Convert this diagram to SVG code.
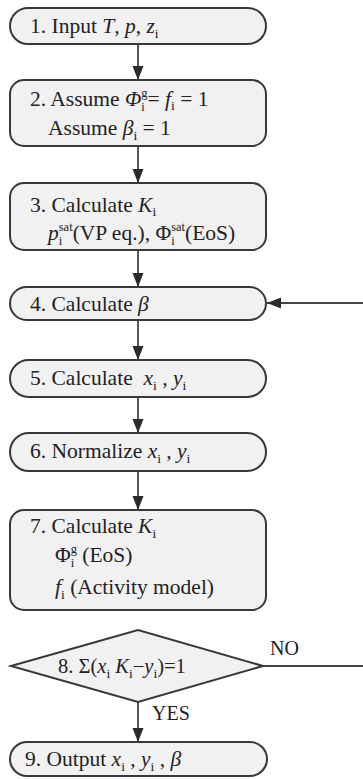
<svg xmlns="http://www.w3.org/2000/svg" width="363" height="779" viewBox="0 0 363 779">
<defs>
<style>
.box{fill:#f1f1f1;stroke:#383838;stroke-width:2}
.t{font-family:"Liberation Serif","Times New Roman",serif;font-size:21.5px;fill:#222}
.d{font-size:20.5px}
.it{font-style:italic}
.s{font-size:13.5px;font-style:normal}
.ss{font-size:12.5px;font-style:normal}
.lbl{font-family:"Liberation Serif","Times New Roman",serif;font-size:20px;fill:#222}
.c{fill:none;stroke:#444;stroke-width:1.8}
</style>
<marker id="ah" markerUnits="userSpaceOnUse" markerWidth="15" markerHeight="12" refX="14" refY="5.5" orient="auto">
<path d="M0,0 L14,5.5 L0,11 Z" fill="#2a2a2a"/>
</marker>
</defs>
<rect width="363" height="779" fill="#fff"/>
<g id="connectors">
<line class="c" x1="138" y1="44" x2="138" y2="80" marker-end="url(#ah)"/>
<line class="c" x1="138" y1="146" x2="138" y2="183" marker-end="url(#ah)"/>
<line class="c" x1="138" y1="250" x2="138" y2="287" marker-end="url(#ah)"/>
<line class="c" x1="138" y1="320" x2="138" y2="360" marker-end="url(#ah)"/>
<line class="c" x1="138" y1="397" x2="138" y2="433" marker-end="url(#ah)"/>
<line class="c" x1="138" y1="471" x2="138" y2="510" marker-end="url(#ah)"/>
<line class="c" x1="138" y1="702" x2="138" y2="742" marker-end="url(#ah)"/>
<line class="c" x1="263" y1="666" x2="363" y2="666"/>
<line class="c" x1="363" y1="303" x2="267" y2="303" marker-end="url(#ah)"/>
<text class="lbl" x="152" y="720">YES</text>
<text class="lbl" x="270" y="655">NO</text>
</g>
<g id="n1">
<rect class="box" x="10" y="8" width="256" height="36" rx="18"/>
<text class="t" x="30" y="33">1. Input <tspan class="it">T</tspan>, <tspan class="it">p</tspan>, <tspan class="it">z</tspan><tspan class="s" dy="5">i</tspan></text>
</g>
<g id="n2">
<rect class="box" x="10" y="80" width="256" height="66" rx="14"/>
<text class="t" x="30" y="106">2. Assume <tspan class="it">Φ</tspan><tspan class="ss" dy="5">i</tspan><tspan class="ss" dx="-3.5" dy="-14.5">g</tspan><tspan dy="9.5">= </tspan><tspan class="it">f</tspan><tspan class="s" dy="4">i</tspan><tspan dy="-4"> = 1</tspan></text>
<text class="t" x="48" y="135">Assume <tspan class="it">β</tspan><tspan class="s" dy="5">i</tspan><tspan dy="-5"> = 1</tspan></text>
</g>
<g id="n3">
<rect class="box" x="10" y="183" width="256" height="67" rx="14"/>
<text class="t" x="30" y="212">3. Calculate <tspan class="it">K</tspan><tspan class="s" dy="4">i</tspan></text>
<text class="t" x="48" y="240"><tspan class="it">p</tspan><tspan class="ss" dy="5">i</tspan><tspan class="ss" dx="-3.5" dy="-14.5">sat</tspan><tspan dy="9.5">(VP eq.), Φ</tspan><tspan class="ss" dy="5">i</tspan><tspan class="ss" dx="-3.5" dy="-14.5">sat</tspan><tspan dy="9.5">(EoS)</tspan></text>
</g>
<g id="n4">
<rect class="box" x="10" y="287" width="256" height="33" rx="16.5"/>
<text class="t" x="30" y="311">4. Calculate <tspan class="it">β</tspan></text>
</g>
<g id="n5">
<rect class="box" x="10" y="360" width="256" height="37" rx="18.5"/>
<text class="t" x="30" y="385" xml:space="preserve">5. Calculate  <tspan class="it">x</tspan><tspan class="s" dy="5">i</tspan><tspan dy="-5"> , </tspan><tspan class="it">y</tspan><tspan class="s" dy="5">i</tspan></text>
</g>
<g id="n6">
<rect class="box" x="10" y="433" width="256" height="38" rx="19"/>
<text class="t" x="30" y="458">6. Normalize <tspan class="it">x</tspan><tspan class="s" dy="5">i</tspan><tspan dy="-5"> , </tspan><tspan class="it">y</tspan><tspan class="s" dy="5">i</tspan></text>
</g>
<g id="n7">
<rect class="box" x="10" y="510" width="256" height="100" rx="14"/>
<text class="t" x="30" y="533">7. Calculate <tspan class="it">K</tspan><tspan class="s" dy="5">i</tspan></text>
<text class="t" x="55" y="562">Φ<tspan class="ss" dy="5">i</tspan><tspan class="ss" dx="-3.5" dy="-14.5">g</tspan><tspan dy="9.5"> (EoS)</tspan></text>
<text class="t" x="55" y="594"><tspan class="it">f</tspan><tspan class="s" dy="5">i</tspan><tspan dy="-5"> (Activity model)</tspan></text>
</g>
<g id="n8">
<polygon class="box" points="11,666 138,630 263,666 138,702"/>
<text class="t d" x="58" y="673">8. Σ(<tspan class="it">x</tspan><tspan class="s" dy="5">i</tspan><tspan dy="-5"> </tspan><tspan class="it">K</tspan><tspan class="s" dy="5">i</tspan><tspan dy="-5">−</tspan><tspan class="it">y</tspan><tspan class="s" dy="5">i</tspan><tspan dy="-5">)=1</tspan></text>
</g>
<g id="n9">
<rect class="box" x="10" y="742" width="257" height="34" rx="17"/>
<text class="t" x="25" y="766">9. Output <tspan class="it">x</tspan><tspan class="s" dy="5">i</tspan><tspan dy="-5"> , </tspan><tspan class="it">y</tspan><tspan class="s" dy="5">i</tspan><tspan dy="-5"> , </tspan><tspan class="it">β</tspan></text>
</g>
</svg>
